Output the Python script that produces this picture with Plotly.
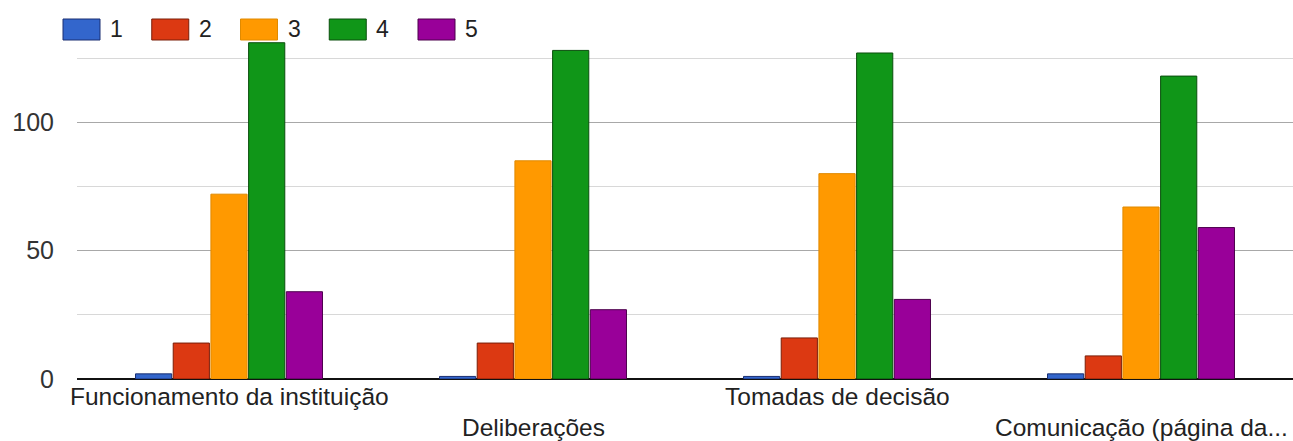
import plotly.graph_objects as go

categories = ["Funcionamento da instituição", "Deliberações", "Tomadas de decisão", "Comunicação (página da..."]
series_names = ["1", "2", "3", "4", "5"]
values_1 = [2, 1, 1, 2]
values_2 = [14, 14, 16, 9]
values_3 = [72, 85, 80, 67]
values_4 = [131, 128, 127, 118]
values_5 = [34, 27, 31, 59]
series_values = [values_1, values_2, values_3, values_4, values_5]
fill_colors = ["#3366cc", "#dc3912", "#ff9900", "#109618", "#990099"]
edge_colors = ["#1a2f73", "#7a1e08", "#e08a00", "#0a4f0d", "#4d004d"]
y_tick_vals = [0, 50, 100]
y_tick_text = ["0", "50", "100"]
y_minor_vals = [25, 75, 125]

FONT = "Liberation Sans, Arial, sans-serif"
W, H = 1293, 441
ML, MR, MT, MB = 77, 0, 20, 62
plot_h = H - MT - MB
px_per_unit = 2.567

fig = go.Figure()
for name, vals, fc, ec in zip(series_names, series_values, fill_colors, edge_colors):
    fig.add_trace(go.Bar(
        x=categories, y=vals, name=name,
        marker=dict(color=fc, line=dict(color=ec, width=1)),
        showlegend=False,
    ))

# staggered category labels
for i, cat in enumerate(categories):
    fig.add_annotation(
        x=cat, xref="x", y=0, yref="paper", yanchor="top",
        yshift=-2 if i % 2 == 0 else -33,
        text=cat, showarrow=False,
        font=dict(family=FONT, size=24.5, color="#222222"),
    )

# custom legend
step = 88.75
for i, (name, fc, ec) in enumerate(zip(series_names, fill_colors, edge_colors)):
    x0 = -14 + i * step
    fig.add_shape(
        type="rect", xref="paper", yref="paper",
        xsizemode="pixel", ysizemode="pixel", xanchor=0, yanchor=1,
        x0=x0, x1=x0 + 37, y0=1, y1=-20,
        fillcolor=fc, line=dict(color=ec, width=1), layer="above",
    )
    fig.add_annotation(
        x=0, xref="paper", y=1, yref="paper", xanchor="left", yanchor="middle",
        xshift=x0 + 45, yshift=-9, text=name, showarrow=False,
        font=dict(family=FONT, size=23, color="#222222"),
    )

fig.update_layout(
    width=W, height=H,
    margin=dict(l=ML, r=MR, t=MT, b=MB, autoexpand=False),
    paper_bgcolor="white", plot_bgcolor="white",
    barmode="group", bargap=0.38, bargroupgap=0.04,
    font=dict(family=FONT, size=24.5, color="#222222"),
    xaxis=dict(showticklabels=False, showgrid=False, zeroline=False,
               showline=False, ticks="", automargin=False,
               range=[-0.5, len(categories) - 0.5]),
    yaxis=dict(range=[0, plot_h / px_per_unit], tickvals=y_tick_vals,
               ticktext=y_tick_text, showgrid=True, gridcolor="#a8a8a8",
               gridwidth=1, zeroline=True, zerolinecolor="#111111",
               zerolinewidth=2, ticks="", ticklabelstandoff=22,
               automargin=False,
               tickfont=dict(family=FONT, size=25, color="#333333"),
               minor=dict(tickvals=y_minor_vals, showgrid=True,
                          gridcolor="#d8d8d8", gridwidth=1)),
)

fig.write_html("out.html")
